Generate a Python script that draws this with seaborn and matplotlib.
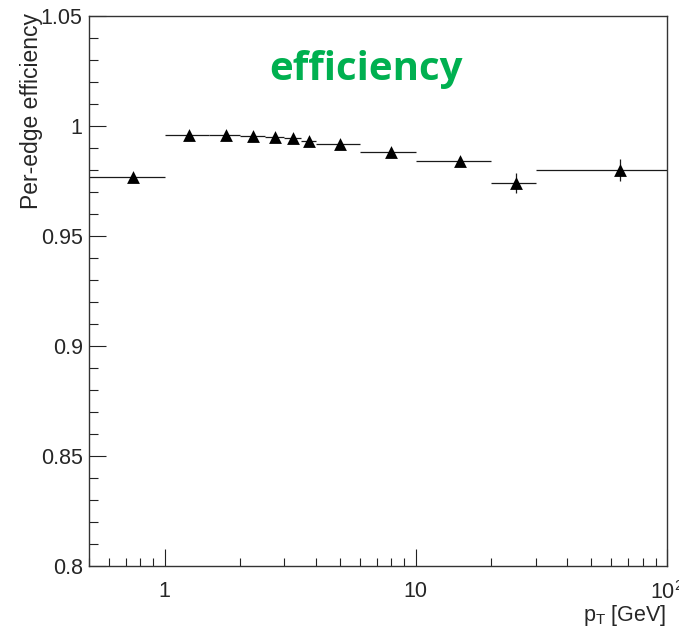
import matplotlib
matplotlib.use("Agg")
import matplotlib.pyplot as plt
import matplotlib.ticker as mticker
import seaborn as sns
import numpy as np
import pandas as pd

# ---- data ----
bin_lo = [0.5, 1.0, 1.5, 2.0, 2.5, 3.0, 3.5, 4.0, 6.0, 10.0, 20.0, 30.0]
bin_hi = [1.0, 1.5, 2.0, 2.5, 3.0, 3.5, 4.0, 6.0, 10.0, 20.0, 30.0, 100.0]
efficiency = [0.9770, 0.9959, 0.9959, 0.9956, 0.9951, 0.9947, 0.9933,
              0.9917, 0.9883, 0.9841, 0.9740, 0.9801]
eff_err = [0.0008, 0.0008, 0.0008, 0.0009, 0.0010, 0.0011, 0.0012,
           0.0012, 0.0015, 0.0020, 0.0045, 0.0050]
y_ticks = [0.8, 0.85, 0.9, 0.95, 1.0, 1.05]
x_ticks = [1, 10, 100]
x_tick_labels = ["1", "10", r"$10^{2}$"]
title_text = "efficiency"
y_label = "Per-edge efficiency"
x_label = r"p$_{\mathregular{T}}$ [GeV]"

df = pd.DataFrame({"lo": bin_lo, "hi": bin_hi, "eff": efficiency, "err": eff_err})
df["pt"] = (df["lo"] + df["hi"]) / 2.0

sns.set_theme(style="white")
plt.rcParams["font.family"] = ["Liberation Sans", "DejaVu Sans"]
plt.rcParams["mathtext.fontset"] = "custom"
plt.rcParams["mathtext.rm"] = "Liberation Sans"
plt.rcParams["mathtext.it"] = "Liberation Sans"
plt.rcParams["mathtext.default"] = "regular"

fig = plt.figure(figsize=(6.79, 6.29), dpi=100)
ax = fig.add_axes([89 / 679, 1 - 566 / 629, (667 - 89) / 679, (566 - 16) / 629])

ax.errorbar(df["pt"], df["eff"],
            xerr=[df["pt"] - df["lo"], df["hi"] - df["pt"]],
            yerr=df["err"], fmt="none", ecolor="#1a1a1a", elinewidth=0.9,
            capsize=0, zorder=2)
sns.scatterplot(data=df, x="pt", y="eff", marker="^", s=85, color="black",
                linewidth=0, ax=ax, zorder=3, legend=False)

ax.set_xscale("log")
ax.set_xlim(0.5, 100)
ax.set_ylim(0.8, 1.05)

ax.xaxis.set_major_locator(mticker.FixedLocator(x_ticks))
ax.xaxis.set_major_formatter(mticker.FixedFormatter(x_tick_labels))
ax.xaxis.set_minor_locator(mticker.LogLocator(base=10, subs=np.arange(2, 10), numticks=20))
ax.xaxis.set_minor_formatter(mticker.NullFormatter())

ax.yaxis.set_major_locator(mticker.FixedLocator(y_ticks))
ax.yaxis.set_major_formatter(mticker.FormatStrFormatter("%g"))
ax.yaxis.set_minor_locator(mticker.MultipleLocator(0.01))

ax.tick_params(axis="both", which="both", direction="in", color="#222222",
               top=False, right=False, bottom=True, left=True)
ax.tick_params(axis="x", which="major", length=12, width=0.8, pad=11, labelsize=15.5)
ax.tick_params(axis="x", which="minor", length=6, width=0.8)
ax.tick_params(axis="y", which="major", length=12.5, width=0.8, pad=4.5, labelsize=15.5)
ax.tick_params(axis="y", which="minor", length=6.5, width=0.8)

for sp in ax.spines.values():
    sp.set_visible(True)
    sp.set_color("#333333")
    sp.set_linewidth(1.0)

ax.set_xlabel("")
ax.set_ylabel("")

fig.text(666 / 679, 1 - 621 / 629, x_label, ha="right", va="baseline", fontsize=15.5)
fig.text(20 / 679, 1 - 13 / 629, y_label, rotation=90, ha="left", va="top", fontsize=16.5)
fig.text(366 / 679, 1 - 80 / 629, title_text, ha="center", va="baseline",
         fontsize=29, fontweight="bold", color="#00B050",
         family=["Open Sans", "DejaVu Sans"])

fig.savefig("out.png", dpi=100)
